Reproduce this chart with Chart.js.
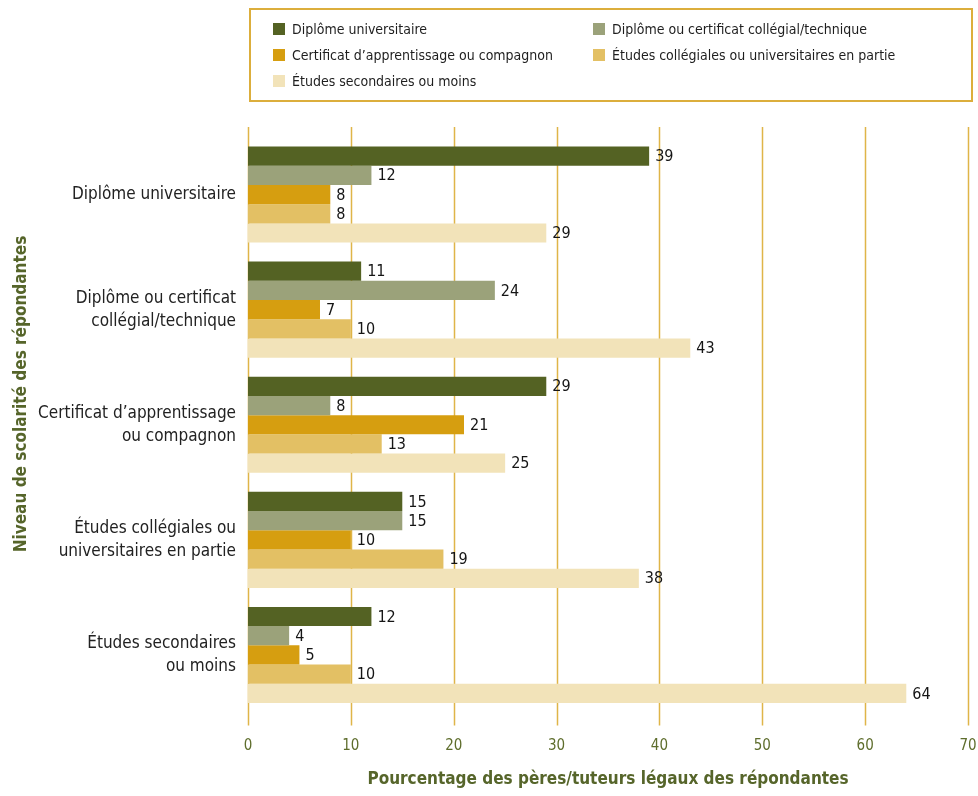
<!DOCTYPE html>
<html lang="fr">
<head>
<meta charset="UTF-8">
<title>Niveau de scolarité des répondantes</title>
<script src="https://cdn.jsdelivr.net/npm/chart.js"></script>
<style>
    body { margin: 0; background: #fff; }
    #wrap { position: relative; width: 978px; height: 796px; }
    #chart { position: absolute; left: 0; top: 0; }
    #legend {
        position: absolute; left: 249px; top: 8px; width: 720px; height: 90px;
        border: 2px solid #dcae3c; font-family: 'Liberation Sans Narrow', 'DejaVu Sans Condensed', sans-serif;
        font-size: 14px; color: #1e1e1e;
    }
    .item { position: absolute; display: flex; align-items: center; height: 20px; }
    .item span.box { width: 12px; height: 12px; margin-right: 7px; display: inline-block; }
</style>
</head>
<body>
<div id="wrap">
    <canvas id="chart" width="978" height="796"></canvas>
    <div id="legend"></div>
</div>
<script>
    const FONT = "'Liberation Sans Narrow', 'DejaVu Sans Condensed', sans-serif";

    const categories = [
        'Diplôme universitaire',
        ['Diplôme ou certificat', 'collégial/technique'],
        ["Certificat d’apprentissage", 'ou compagnon'],
        ['Études collégiales ou', 'universitaires en partie'],
        ['Études secondaires', 'ou moins']
    ];
    const seriesNames = [
        'Diplôme universitaire',
        'Diplôme ou certificat collégial/technique',
        "Certificat d’apprentissage ou compagnon",
        'Études collégiales ou universitaires en partie',
        'Études secondaires ou moins'
    ];
    const universitaire = [39, 11, 29, 15, 12];
    const collegial = [12, 24, 8, 15, 4];
    const apprentissage = [8, 7, 21, 10, 5];
    const enPartie = [8, 10, 13, 19, 10];
    const secondaires = [29, 43, 25, 38, 64];
    const xTicks = [0, 10, 20, 30, 40, 50, 60, 70];
    const yTitle = 'Niveau de scolarité des répondantes';

    const colors = ['#546223', '#9ba27a', '#d69e10', '#e3c064', '#f2e3b9'];
    const values = [universitaire, collegial, apprentissage, enPartie, secondaires];

    // legend in a bordered box, two columns
    const legendPos = [[22, 9], [342, 9], [22, 35], [342, 35], [22, 61]];
    const legend = document.getElementById('legend');
    seriesNames.forEach((name, i) => {
        const el = document.createElement('div');
        el.className = 'item';
        el.style.left = legendPos[i][0] + 'px';
        el.style.top = legendPos[i][1] + 'px';
        el.innerHTML = '<span class="box" style="background:' + colors[i] + '"></span>' + name;
        legend.appendChild(el);
    });

    // vertical grid lines, a bit taller than the plot area
    const gridLines = {
        id: 'gridLines',
        beforeDatasetsDraw(chart) {
            const ctx = chart.ctx, x = chart.scales.x, area = chart.chartArea;
            ctx.save();
            ctx.strokeStyle = '#dfb548';
            ctx.lineWidth = 1.5;
            xTicks.forEach(v => {
                const px = Math.round(x.getPixelForValue(v)) + 0.5;
                ctx.beginPath();
                ctx.moveTo(px, area.top - 10);
                ctx.lineTo(px, area.bottom + 13);
                ctx.stroke();
            });
            ctx.restore();
        }
    };

    // value labels at the end of each bar + rotated y title
    const barValues = {
        id: 'barValues',
        afterDatasetsDraw(chart) {
            const ctx = chart.ctx;
            ctx.save();
            ctx.font = '16px ' + FONT;
            ctx.fillStyle = '#151515';
            ctx.textBaseline = 'middle';
            chart.data.datasets.forEach((ds, i) => {
                chart.getDatasetMeta(i).data.forEach((bar, j) => {
                    ctx.fillText(String(ds.data[j]), bar.x + 6, bar.y + 1);
                });
            });
            ctx.translate(22, 394);
            ctx.rotate(-Math.PI / 2);
            ctx.textAlign = 'center';
            ctx.font = 'bold 17px ' + FONT;
            ctx.fillStyle = '#56652a';
            ctx.fillText(yTitle, 0, 0);
            ctx.restore();
        }
    };

    new Chart(document.getElementById('chart'), {
        type: 'bar',
        data: {
            labels: categories,
            datasets: seriesNames.map((name, i) => ({
                label: name,
                data: values[i],
                backgroundColor: colors[i],
                categoryPercentage: 0.835,
                barPercentage: 1
            }))
        },
        options: {
            indexAxis: 'y',
            responsive: false,
            animation: false,
            layout: { padding: { top: 137, right: 10, left: 0, bottom: 0 } },
            plugins: { legend: { display: false }, tooltip: { enabled: false } },
            scales: {
                x: {
                    min: 0, max: 70,
                    afterBuildTicks(scale) { scale.ticks = xTicks.map(v => ({ value: v })); },
                    afterFit(scale) { scale.height = 83.5; scale.paddingRight = 0; scale.paddingLeft = 0; },
                    grid: { display: false },
                    border: { display: false },
                    ticks: { padding: 17, color: '#5e6d2c', font: { family: FONT, size: 15 } },
                    title: {
                        display: true,
                        text: 'Pourcentage des pères/tuteurs légaux des répondantes',
                        color: '#56652a',
                        font: { family: FONT, size: 17, weight: 'bold' },
                        padding: { top: 0, bottom: 6 }
                    }
                },
                y: {
                    afterFit(scale) { scale.width = 248; scale.paddingTop = 0; scale.paddingBottom = 0; },
                    grid: { display: false },
                    border: { display: false },
                    ticks: {
                        padding: 4, color: '#222',
                        font: { family: FONT, size: 17, lineHeight: 1.35 }
                    }
                }
            }
        },
        plugins: [gridLines, barValues]
    });
</script>
</body>
</html>
